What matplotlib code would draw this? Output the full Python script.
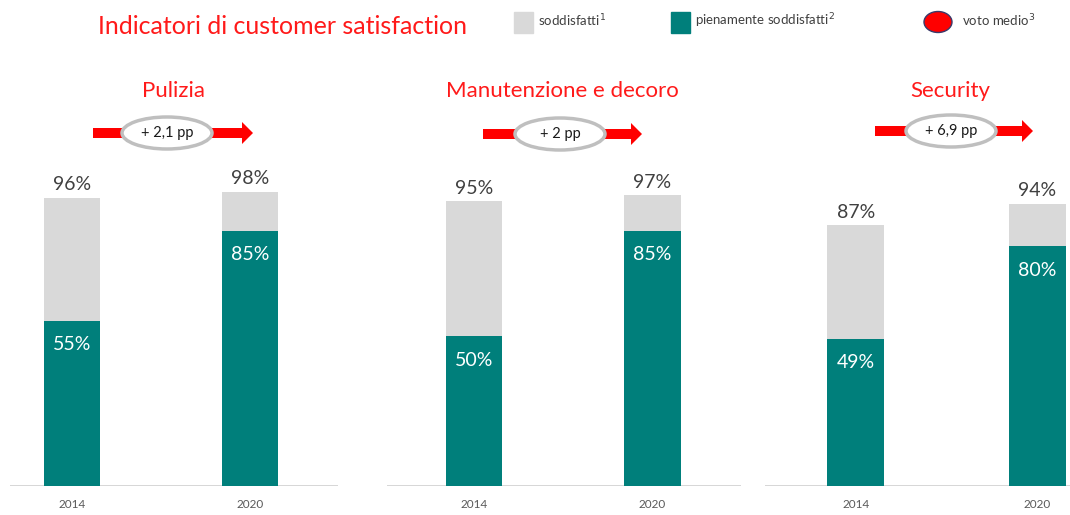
import matplotlib.pyplot as plt
from matplotlib.patches import Ellipse, Rectangle, FancyArrow

plt.rcParams['font.family'] = ['Lato', 'DejaVu Sans']

# data
panels = ['Pulizia', 'Manutenzione e decoro', 'Security']
years = ['2014', '2020']
soddisfatti = [[96, 98], [95, 97], [87, 94]]
pienamente = [[55, 85], [50, 85], [49, 80]]
delta_labels = ['+ 2,1 pp', '+ 2 pp', '+ 6,9 pp']

GREY = '#d9d9d9'
TEAL = '#007f7b'
RED = '#ff1a1a'
TXT = '#404040'

W, H = 1070, 515
fig = plt.figure(figsize=(W / 100, H / 100), dpi=100)

# axes spans in pixels: (left, right, xmin, xmax)
spans = [(10, 338, -0.348, 1.494), (387, 741, -0.49, 1.497), (765, 1070, -0.5, 1.18)]
base_y, px_per_pct = 486, 3.0
ymax = 110
ax_h = ymax * px_per_pct

for k, (l, r, x0, x1) in enumerate(spans):
    ax = fig.add_axes([l / W, (H - base_y) / H, (r - l) / W, ax_h / H])
    ax.set_xlim(x0, x1)
    ax.set_ylim(0, ymax)
    xs = range(len(years))
    ax.bar(xs, soddisfatti[k], width=0.315, color=GREY, zorder=2)
    ax.bar(xs, pienamente[k], width=0.315, color=TEAL, zorder=3)
    for x, tot, full in zip(xs, soddisfatti[k], pienamente[k]):
        ax.text(x, tot + 1.5, f'{tot}%', ha='center', va='bottom',
                fontsize=14, color=TXT)
        ax.text(x, full - 8, f'{full}%', ha='center', va='center',
                fontsize=14, color='white', zorder=4)
    ax.axhline(0, color='#d0d0d0', lw=1.2, zorder=1)
    for s in ax.spines.values():
        s.set_visible(False)
    ax.set_xticks(list(xs))
    ax.set_xticklabels(years, fontsize=8.5, color='#595959')
    ax.tick_params(axis='x', length=0, pad=9)
    ax.set_yticks([])
    ax.patch.set_alpha(0)

# overlay in pixel coordinates for titles, legend and arrows
ov = fig.add_axes([0, 0, 1, 1])
ov.set_xlim(0, W)
ov.set_ylim(H, 0)
ov.axis('off')
ov.patch.set_alpha(0)

ov.text(283, 27, 'Indicatori di customer satisfaction', ha='center', va='center',
        fontsize=18, color=RED)

# legend
ov.add_patch(Rectangle((514, 12), 19, 21, color=GREY))
ov.text(538, 21, 'soddisfatti$^1$', va='center', fontsize=9.5, color=TXT)
ov.add_patch(Rectangle((671, 12), 19, 21, color=TEAL))
ov.text(695, 21, 'pienamente soddisfatti$^2$', va='center', fontsize=9.5, color=TXT)
ov.add_patch(Ellipse((938, 22), 28, 21, facecolor='#ff0000', edgecolor='#3a3a6a', lw=1))
ov.text(962, 21, 'voto medio$^3$', va='center', fontsize=9.5, color=TXT)

# panel titles and change badges
title_x = [173, 562, 950]
badge = [(93, 121, 167, 212, 253, 133),
         (483, 514, 560, 607, 642, 134),
         (875, 906, 951, 996, 1033, 131)]
for name, tx, (a0, a1, cx, b0, b1, cy), lab in zip(panels, title_x, badge, delta_labels):
    ov.text(tx, 91, name, ha='center', va='center', fontsize=16, color=RED)
    ov.add_patch(Rectangle((a0, cy - 5), a1 - a0 + 4, 10, color='#ff0000', lw=0))
    ov.add_patch(FancyArrow(b0 - 3, cy, b1 - b0 + 3, 0, width=10, head_width=22,
                            head_length=11, length_includes_head=True,
                            color='#ff0000', lw=0))
    ov.add_patch(Ellipse((cx, cy), 90, 32, facecolor='white', edgecolor='#bfbfbf', lw=2.5))
    ov.text(cx, cy, lab, ha='center', va='center', fontsize=10.5, color='#1a1a1a')

fig.savefig('out.png', dpi=100)
